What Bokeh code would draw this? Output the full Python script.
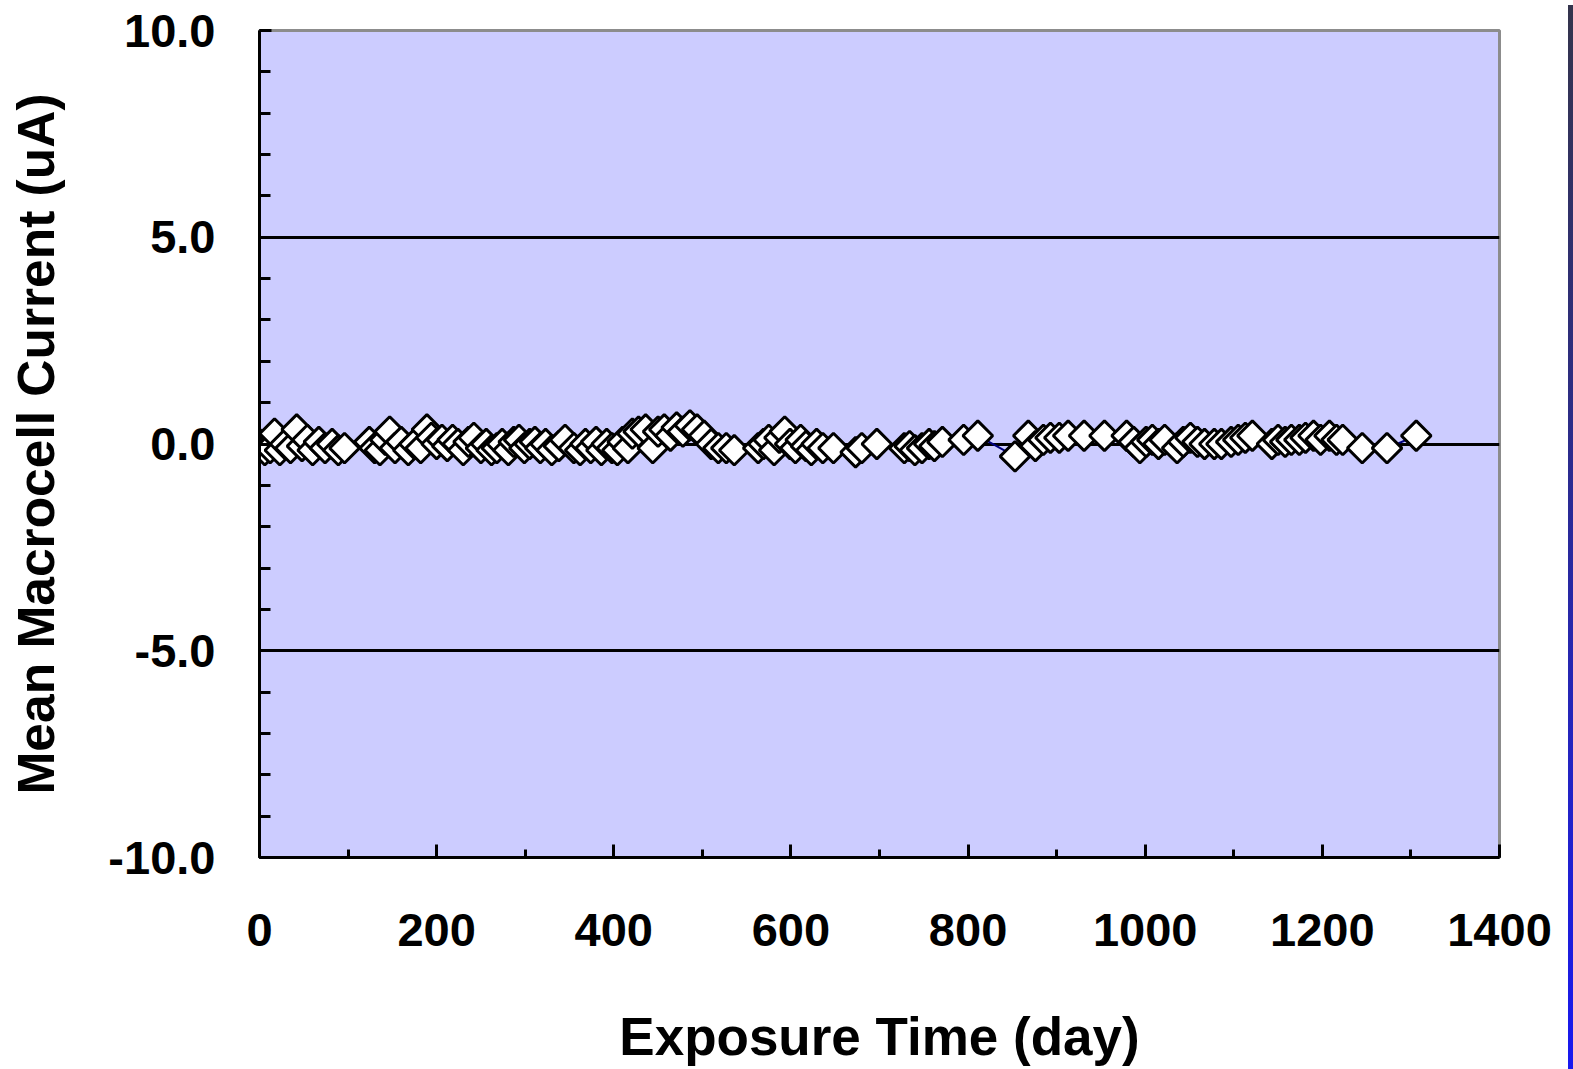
import numpy as np
from bokeh.plotting import figure
from bokeh.layouts import row
from bokeh.models import (SingleIntervalTicker, FixedTicker, PrintfTickFormatter, Div, Range1d)
from bokeh.embed import file_html
from bokeh.resources import INLINE

# ---- data ----
days = [0, 6, 12, 17, 23, 29, 35, 42, 48, 54, 60, 67, 74, 82, 89, 96,
        124, 130, 136, 142, 147, 153, 160, 168, 175, 182, 189, 194, 200, 206, 212, 218,
        224, 230, 236, 242, 250, 256, 262, 268, 274, 281, 287, 293, 299, 305, 311, 317,
        323, 330, 338, 345, 355, 362, 368, 374, 380, 386, 392, 398, 404, 410, 416,
        421, 428, 436, 444, 450, 457, 464, 471, 478, 486, 494, 502, 510, 518, 527, 536,
        563, 569, 575, 581, 587, 593, 599, 605, 611, 617, 623, 629, 636, 648,
        673, 680, 697,
        728, 734, 740, 748, 756, 762, 771, 795, 811,
        853, 868, 876, 885, 893, 903, 913, 931, 954, 979, 987, 994, 1001, 1008, 1015, 1022,
        1036, 1043, 1051, 1059, 1067, 1078, 1086, 1097, 1105, 1113, 1121, 1143, 1150, 1158,
        1165, 1174, 1181, 1190, 1198, 1208, 1216, 1223, 1245, 1273, 1306]
current = [0.0, -0.15, -0.1, 0.25, -0.15, 0.0, -0.1, 0.35, -0.05, 0.1, -0.15, 0.05, -0.1, 0.0, -0.15, -0.1,
           0.05, -0.1, -0.15, 0.1, 0.3, -0.1, 0.05, -0.15, 0.0, -0.1, 0.35, 0.15, 0.0, 0.1, -0.05, 0.1,
           0.0, -0.15, 0.05, 0.15, -0.1, 0.0, -0.15, -0.1, 0.0, -0.15, 0.05, 0.1, -0.1, 0.0, 0.05, -0.1,
           0.0, -0.15, -0.05, 0.1, -0.1, -0.15, 0.0, -0.1, 0.05, -0.15, 0.0, -0.1, -0.15, 0.05, -0.1,
           0.25, 0.3, 0.35, -0.1, 0.3, 0.35, 0.2, 0.4, 0.3, 0.45, 0.35, 0.2, 0.0, -0.1, -0.1, -0.15,
           -0.1, 0.0, 0.1, -0.15, 0.15, 0.3, 0.0, -0.1, 0.1, -0.05, -0.15, 0.0, -0.1, -0.1,
           -0.2, -0.1, 0.0,
           -0.1, -0.05, -0.15, -0.1, 0.0, -0.05, 0.05, 0.1, 0.2,
           -0.3, 0.2, -0.05, 0.1, 0.15, 0.15, 0.2, 0.2, 0.2, 0.2, 0.05, -0.1, 0.05, 0.1, 0.0, 0.1,
           -0.1, 0.05, 0.15, 0.05, 0.0, 0.0, 0.0, 0.05, 0.1, 0.15, 0.2, 0.0, 0.1, 0.05,
           0.1, 0.1, 0.15, 0.2, 0.1, 0.2, 0.1, 0.1, -0.1, -0.1, 0.2]

x_title = "Exposure Time (day)"
y_title = "Mean Macrocell Current (uA)"

FONT = "Liberation Sans"

p = figure(width=1563, height=1069, output_backend="svg", toolbar_location=None,
           x_range=Range1d(0, 1400), y_range=Range1d(-10, 10),
           min_border_left=259, min_border_right=64, min_border_top=30, min_border_bottom=212)

p.background_fill_color = "#CCCCFF"
p.border_fill_color = "white"
p.outline_line_color = "#8C8C8C"
p.outline_line_width = 3

# axes
for ax in (p.xaxis[0], p.yaxis[0]):
    ax.axis_line_width = 3
    ax.axis_line_color = "black"
    ax.major_tick_line_width = 3
    ax.minor_tick_line_width = 3
    ax.major_tick_out = 0
    ax.minor_tick_out = 0
    ax.major_label_text_font = FONT
    ax.major_label_text_font_style = "bold"
    ax.major_label_text_font_size = "47px"
    ax.major_label_text_color = "black"
    ax.axis_label_text_font = FONT
    ax.axis_label_text_font_style = "bold"
    ax.axis_label_text_color = "black"

p.xaxis.ticker = SingleIntervalTicker(interval=200, num_minor_ticks=2)
p.xaxis.major_tick_in = 13
p.xaxis.minor_tick_in = 8
p.xaxis.major_label_standoff = 56
p.xaxis.axis_label = x_title
p.xaxis.axis_label_text_font_size = "53px"
p.xaxis.axis_label_standoff = 58

p.yaxis.ticker = SingleIntervalTicker(interval=5, num_minor_ticks=5)
p.yaxis.formatter = PrintfTickFormatter(format="%.1f")
p.yaxis.major_tick_in = 12
p.yaxis.minor_tick_in = 11
p.yaxis.major_label_standoff = 44
p.yaxis.axis_label = y_title
p.yaxis.axis_label_text_font_size = "51.5px"
p.yaxis.axis_label_standoff = 40

p.xgrid.visible = False
p.ygrid.ticker = FixedTicker(ticks=[-5, 0, 5])
p.ygrid.grid_line_color = "black"
p.ygrid.grid_line_width = 3

p.line(days, current, line_color="#000080", line_width=2)
p.scatter(days, current, marker="square", angle=np.pi / 4, size=21,
          fill_color="white", line_color="black", line_width=3)

bar = Div(text="", width=10, height=1069,
          styles={"background": "linear-gradient(to bottom, #34344c 0%, #2d2d80 35%, #2424c0 70%, #1818f0 100%)"})

layout = row(p, bar, spacing=0)
open("out.html", "w").write(file_html(layout, INLINE))
